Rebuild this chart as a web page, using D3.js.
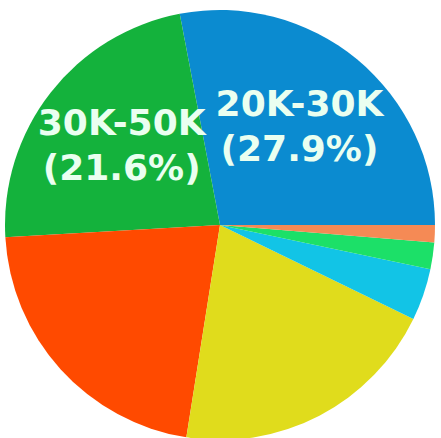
<!DOCTYPE html>
<html>
<head>
<meta charset="utf-8">
<script src="https://cdn.jsdelivr.net/npm/d3@7"></script>
<style>
  body { margin: 0; background: #fff; }
  svg { display: block; }
</style>
</head>
<body>
<svg id="pie"></svg>
<script>
var width = 441; // Width of the SVG element
var height = 438; // Height of the SVG element

// slice data, in matplotlib order (counterclockwise from 3 o'clock)
var categories = ["20K-30K", "30K-50K", "50K-100K", "10K-20K", "<10K", "100K-200K", ">200K"];
// slice sizes
var shares = [28.0, 22.9, 21.6, 20.3, 3.9, 2.0, 1.3];
// percentages printed in the labels (only two slices are labelled)
var shownLabels = ["20K-30K", "30K-50K"];
var shownPct = ["27.9%", "21.6%"];
var colors = ["#0b8bd0", "#14b23c", "#ff4a00", "#e0dc1c", "#12c4e6", "#1ce068", "#f58a55"];

var cx = 220, cy = 225, radius = 215;

var data = categories.map(function(c, i) {
  return { category: c, share: shares[i], color: colors[i] };
});

var svg = d3.select("#pie")
  .attr("width", width)
  .attr("height", height)
  .append("g")
  .attr("transform", "translate(" + cx + "," + cy + ")");

// counterclockwise, starting at 3 o'clock
var pie = d3.pie()
  .sort(null)
  .value(function(d) { return d.share; })
  .startAngle(Math.PI / 2)
  .endAngle(Math.PI / 2 - 2 * Math.PI);

var arc = d3.arc().innerRadius(0).outerRadius(radius);
var labelArc = d3.arc().innerRadius(radius * 0.58).outerRadius(radius * 0.58);

var arcs = pie(data);

svg.selectAll(".slice")
  .data(arcs)
  .enter()
  .append("path")
  .attr("class", "slice")
  .attr("d", arc)
  .attr("fill", function(d) { return d.data.color; });

var labels = svg.selectAll(".slice-label")
  .data(arcs.filter(function(d) { return shownLabels.indexOf(d.data.category) >= 0; }))
  .enter()
  .append("text")
  .attr("class", "slice-label")
  .attr("text-anchor", "middle")
  .attr("fill", "#eafff0")
  .style("font-family", "DejaVu Sans")
  .style("font-weight", "bold")
  .style("font-size", "36px")
  .attr("transform", function(d) {
    var c = labelArc.centroid(d);
    return "translate(" + c[0] + "," + c[1] + ")";
  });

labels.append("tspan")
  .attr("x", 0)
  .attr("y", -13)
  .text(function(d) { return d.data.category; });

labels.append("tspan")
  .attr("x", 0)
  .attr("y", 32)
  .text(function(d) { return "(" + shownPct[shownLabels.indexOf(d.data.category)] + ")"; });
</script>
</body>
</html>
